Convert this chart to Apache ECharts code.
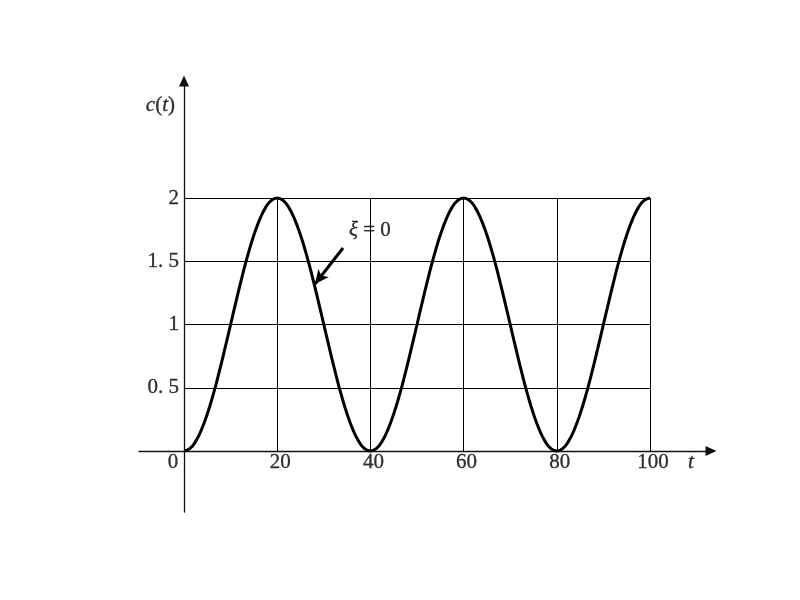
<!DOCTYPE html>
<html><head><meta charset="utf-8">
<script src="https://cdn.jsdelivr.net/npm/echarts@6/dist/echarts.min.js"></script>
<style>html,body{margin:0;padding:0;background:#fff}#c{width:800px;height:600px}</style>
</head><body><div id="c"></div>
<script>
var tValues = [0,1.25,2.5,3.75,5,6.25,7.5,8.75,10,11.25,12.5,13.75,15,16.25,17.5,18.75,20,21.25,22.5,23.75,25,26.25,27.5,28.75,30,31.25,32.5,33.75,35,36.25,37.5,38.75,40,41.25,42.5,43.75,45,46.25,47.5,48.75,50,51.25,52.5,53.75,55,56.25,57.5,58.75,60,61.25,62.5,63.75,65,66.25,67.5,68.75,70,71.25,72.5,73.75,75,76.25,77.5,78.75,80,81.25,82.5,83.75,85,86.25,87.5,88.75,90,91.25,92.5,93.75,95,96.25,97.5,98.75,100];
var cValues = [0,0.019,0.076,0.169,0.293,0.444,0.617,0.805,1.0,1.195,1.383,1.556,1.707,1.831,1.924,1.981,2.0,1.981,1.924,1.831,1.707,1.556,1.383,1.195,1.0,0.805,0.617,0.444,0.293,0.169,0.076,0.019,
  0,0.019,0.076,0.169,0.293,0.444,0.617,0.805,1.0,1.195,1.383,1.556,1.707,1.831,1.924,1.981,2.0,1.981,1.924,1.831,1.707,1.556,1.383,1.195,1.0,0.805,0.617,0.444,0.293,0.169,0.076,0.019,
  0,0.019,0.076,0.169,0.293,0.444,0.617,0.805,1.0,1.195,1.383,1.556,1.707,1.831,1.924,1.981,2.0];
var xTicks = [20,40,60,80,100];
var xTickLabels = ['20','40','60','80','100'];
var yTicks = [0.5,1,1.5,2];
var yTickLabels = ['0. 5','1','1. 5','2'];

var FONT = 'Liberation Serif';
var chart = echarts.init(document.getElementById('c'));
var xMin = -9.657, xMax = 113.09, yMin = -0.4822, yMax = 2.925;

var gridLines = [];
xTicks.forEach(function(x){ gridLines.push([{coord:[x,0]},{coord:[x,2]}]); });
yTicks.forEach(function(y){ gridLines.push([{coord:[0,y]},{coord:[100,y]}]); });

var xLabelData = xTicks.map(function(x,i){ return {value:[x,0], label:{formatter: xTickLabels[i]}}; });
xLabelData.push({value:[0,0], label:{formatter:'0', offset:[-11,0]}});
var yLabelData = yTicks.map(function(y,i){ return {value:[0,y], label:{formatter: yTickLabels[i]}}; });

var bold = {textBorderColor:'#000',textBorderWidth:0.35};
var rich = {i:Object.assign({fontFamily:FONT,fontSize:21,fontStyle:'italic',color:'#000'},bold),
            r:Object.assign({fontFamily:FONT,fontSize:21,color:'#000'},bold)};

chart.setOption({
  animation:false,
  grid:{left:139,right:89,top:81,bottom:88},
  xAxis:{type:'value',min:xMin,max:xMax,
    axisLine:{show:true,onZero:true,symbol:['none','triangle'],symbolSize:[10,11],lineStyle:{color:'#111',width:1.3}},
    axisTick:{show:false},axisLabel:{show:false},splitLine:{show:false}},
  yAxis:{type:'value',min:yMin,max:yMax,
    axisLine:{show:true,onZero:true,symbol:['none','triangle'],symbolSize:[10,11],lineStyle:{color:'#111',width:1.3}},
    axisTick:{show:false},axisLabel:{show:false},splitLine:{show:false}},
  series:[
    {type:'line',data:[],silent:true,
      markLine:{silent:true,symbol:['none','none'],label:{show:false},
        lineStyle:{color:'#000',width:1,type:'solid'},data:gridLines}},
    {type:'line',data:tValues.map(function(t,i){return [t,cValues[i]];}),
      smooth:true,showSymbol:false,lineStyle:{color:'#000',width:3},z:5},
    {type:'scatter',symbolSize:0,data:xLabelData,silent:true,
      label:Object.assign({show:true,position:'bottom',offset:[3,0],distance:1,color:'#000',fontFamily:FONT,fontSize:21},bold)},
    {type:'scatter',symbolSize:0,data:yLabelData,silent:true,
      label:Object.assign({show:true,position:'left',distance:5,color:'#000',fontFamily:FONT,fontSize:21},bold)},
    {type:'scatter',symbolSize:0,silent:true,
      data:[{value:[0,yMax],label:{formatter:'{i|c}{r|(}{i|t}{r|)}',position:'left',distance:9,offset:[0,24]}},
            {value:[xMax,0],label:{formatter:'{i|t}',position:'bottom',offset:[-20,0],distance:1}},
            {value:[39.9,1.747],label:{formatter:'{i|\u03BE}{r| = 0}',position:'inside'}}],
      label:{show:true,rich:rich}},
    {type:'line',data:[],silent:true,
      markLine:{silent:true,symbol:['none','arrow'],symbolSize:[10,14],label:{show:false},
        lineStyle:{color:'#000',width:3,type:'solid'},
        data:[[{coord:[34.12,1.605]},{coord:[28.11,1.32]}]]}}
  ]
});
</script></body></html>
